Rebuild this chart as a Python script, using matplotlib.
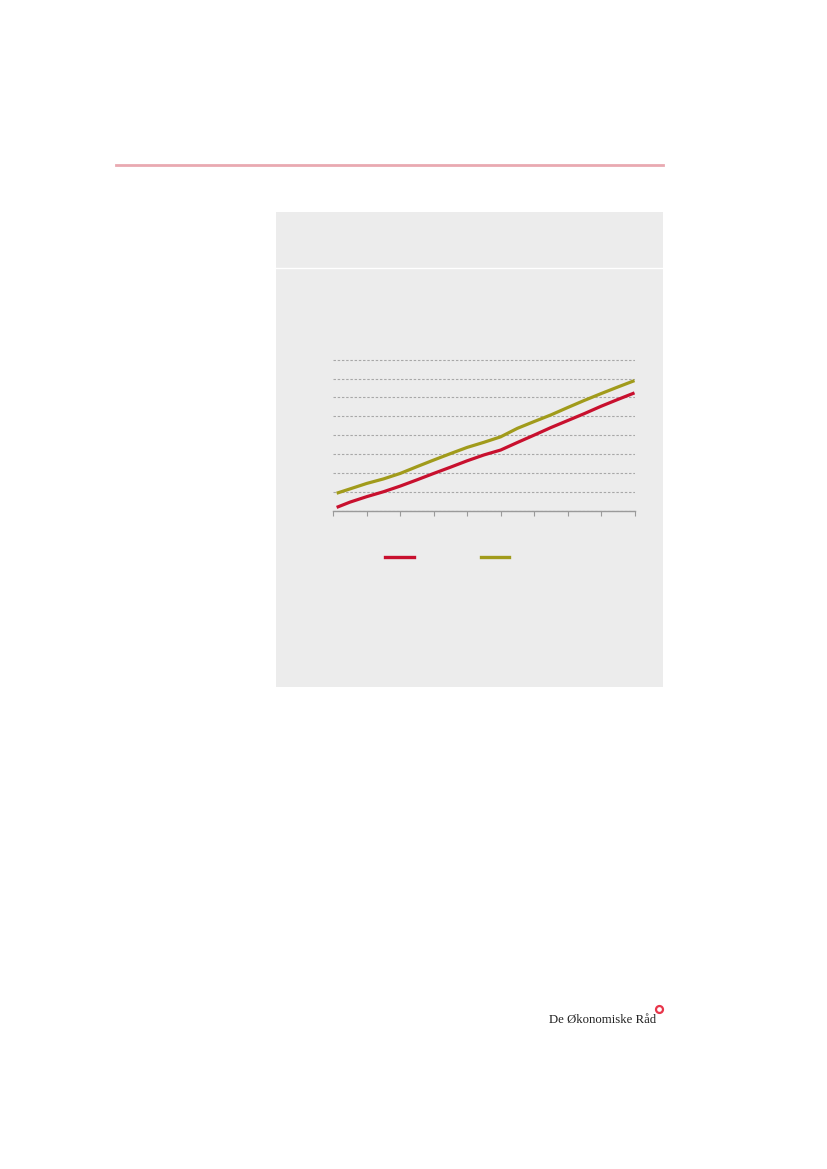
import numpy as np
from matplotlib import pyplot
from matplotlib.lines import Line2D
from matplotlib.patches import Rectangle

# x positions (years from start of period), no labels shown in the source
x_vals = [0.1, 0.5, 1.0, 1.5, 2.0, 2.5, 3.0, 3.5, 4.0, 4.5, 5.0, 5.5, 6.0, 6.5, 7.0, 7.5, 8.0, 8.5, 9.0]

red_vals = [0.17, 0.45, 0.74, 1.00, 1.30, 1.63, 1.97, 2.30, 2.64, 2.95, 3.21, 3.61, 4.00, 4.40, 4.77, 5.14, 5.53, 5.89, 6.24]
olive_vals = [0.92, 1.15, 1.44, 1.68, 1.97, 2.33, 2.68, 3.02, 3.35, 3.62, 3.91, 4.36, 4.72, 5.07, 5.46, 5.84, 6.20, 6.55, 6.89]

x_ticks = list(range(10))
y_ticks = list(range(9))

RED = "#c8102e"
OLIVE = "#a19b1b"
W, H = 827.0, 1169.0


def fx(px):
    return px / W


def fy(py):
    return 1 - py / H


figure = pyplot.figure(figsize=(8.27, 11.69), dpi=100)
figure.patch.set_facecolor("white")

# pink rule at top of page
figure.add_artist(Line2D([fx(116), fx(663)], [fy(165), fy(165)], color="#e9a9b1", lw=2.0))

# grey box behind the chart
figure.add_artist(Rectangle((fx(276), fy(687)), fx(663) - fx(276), fy(212) - fy(687),
                            facecolor="#ececec", edgecolor="none", zorder=0))
figure.add_artist(Line2D([fx(276), fx(663)], [fy(268), fy(268)], color="white", lw=1.0))

# chart axes
axes = figure.add_axes([fx(333.3), fy(510.6), fx(634.5) - fx(333.3), fy(359.3) - fy(510.6)])
axes.set_facecolor("none")
axes.plot(x_vals, red_vals, color=RED, lw=2.3, solid_capstyle="butt", zorder=3)
axes.plot(x_vals, olive_vals, color=OLIVE, lw=2.3, solid_capstyle="butt", zorder=3)

axes.set_xlim(0, 9)
axes.set_ylim(0, 8.02)
axes.set_xticks(x_ticks)
axes.set_yticks(y_ticks)
axes.set_xticklabels([])
axes.set_yticklabels([])
axes.yaxis.grid(True, color="#a8a8a8", linestyle=(0, (2.2, 1.6)), lw=0.8)
axes.tick_params(axis="y", length=0)
axes.tick_params(axis="x", direction="out", length=3.5, width=0.8, color="#9a9a9a")
for side in ["top", "right", "left"]:
    axes.spines[side].set_visible(False)
axes.spines["bottom"].set_color("#9a9a9a")
axes.spines["bottom"].set_linewidth(1.0)

# legend keys (labels are empty in the source)
figure.add_artist(Line2D([fx(385), fx(414)], [fy(557), fy(557)], color=RED, lw=2.4))
figure.add_artist(Line2D([fx(481), fx(509)], [fy(557), fy(557)], color=OLIVE, lw=2.4))

# logo
figure.text(fx(656), fy(1023), "De Økonomiske Råd", ha="right", va="baseline",
            family="Liberation Serif", fontsize=9.2, color="#222222")
figure.add_artist(Line2D([fx(658.5)], [fy(1009)], marker="o", markersize=5,
                         markerfacecolor="white", markeredgecolor="#e8354a", markeredgewidth=1.6))

pyplot.savefig("out.png", dpi=100)
